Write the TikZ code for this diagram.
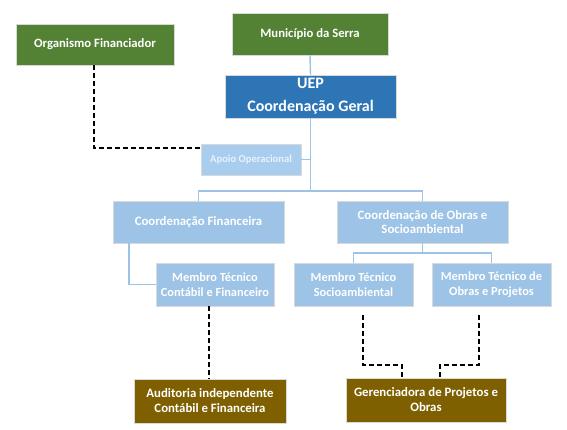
\documentclass[tikz,border=0pt]{standalone}
\usepackage{fontspec}
\setmainfont{Carlito}
\definecolor{dgreen}{HTML}{548235}
\definecolor{ublue}{HTML}{2E75B6}
\definecolor{lblue}{HTML}{9DC3E6}
\definecolor{apblue}{HTML}{A9CDEE}
\definecolor{apText}{HTML}{EAF2FB}
\definecolor{brown}{HTML}{7F6000}
\begin{document}
\begin{tikzpicture}[x=1pt,y=-1pt,
  box/.style={draw=white!85!black, line width=0.6pt, text=white, align=center, inner sep=2pt, font=\bfseries},
  gbox/.style={box, fill=dgreen, font=\bfseries\fontsize{12.7}{15}\selectfont},
  ubox/.style={box, fill=ublue, font=\bfseries\fontsize{16}{23}\selectfont},
  lbox/.style={box, fill=lblue, font=\bfseries\fontsize{12.8}{14.5}\selectfont},
  mbox/.style={box, fill=lblue, font=\bfseries\fontsize{12.4}{14.5}\selectfont},
  abox/.style={box, fill=apblue, text=apText, font=\bfseries\fontsize{10.6}{12}\selectfont},
  bbox/.style={box, fill=brown, font=\bfseries\fontsize{12.8}{15}\selectfont},
  conn/.style={draw=lblue, line width=1.4pt},
  dconn/.style={draw=black, line width=1.6pt, dash pattern=on 5pt off 3pt}
]
\useasboundingbox (0,0) rectangle (567,429);
\fill[white] (0,0) rectangle (567,429);

\node[gbox, minimum width=158pt, minimum height=41pt] (org) at (95,44.5) {Organismo Financiador};
\node[gbox, minimum width=156pt, minimum height=42pt] (mun) at (310,34) {Município da Serra};
\node[ubox, minimum width=171pt, minimum height=43pt] (uep) at (310.5,96.5) {UEP\\Coordenação Geral};
\node[abox, minimum width=100pt, minimum height=31pt] (apoio) at (251,159.5) {Apoio Operacional};
\node[lbox, minimum width=171pt, minimum height=42pt] (cf) at (198.5,222) {Coordenação Financeira};
\node[lbox, minimum width=171pt, minimum height=42pt] (co) at (422.5,222) {Coordenação de Obras e\\Socioambiental};
\node[mbox, minimum width=118pt, minimum height=43pt] (mc) at (215,284.5) {Membro Técnico\\Contábil e Financeiro};
\node[mbox, minimum width=119pt, minimum height=43pt] (ms) at (353.5,284.5) {Membro Técnico\\Socioambiental};
\node[mbox, minimum width=119pt, minimum height=43pt] (mo) at (491.5,284.5) {Membro Técnico de\\Obras e Projetos};
\node[bbox, minimum width=152pt, minimum height=44pt] (aud) at (210,401) {Auditoria independente\\Contábil e Financeira};
\node[bbox, minimum width=160pt, minimum height=44pt] (ger) at (426,400) {Gerenciadora de Projetos e\\Obras};

% solid connectors
\draw[conn] (mun.south) -- (uep.north);
\draw[conn] (uep.south) -- (310.5,191) -| (cf.north);
\draw[conn] (310.5,191) -| (co.north);
\draw[conn] (apoio.east) -- (310.5,159.5);
\draw[conn] (cf.south -| 129,0) |- (mc.west);
\draw[conn] (co.south) -- (422.5,253) -| (ms.north);
\draw[conn] (422.5,253) -| (mo.north);

% dashed connectors
\draw[dconn] (org.south -| 94,0) |- (apoio.west |- 0,148);
\draw[dconn] (mc.south -| 209,0) -- (aud.north -| 209,0);
\coordinate (d1) at (363,315);
\coordinate (d2) at (479,315);
\draw[dconn] (d1) |- (402,365) -- (ger.north -| 402,0);
\draw[dconn] (d2) |- (440,365) -- (ger.north -| 440,0);
\end{tikzpicture}
\end{document}
